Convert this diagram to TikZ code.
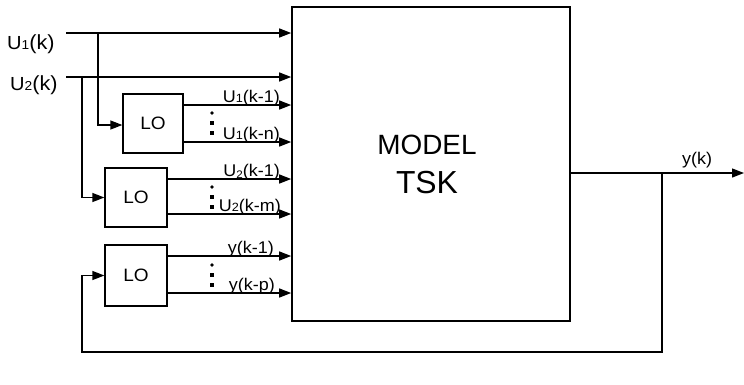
\documentclass[tikz,border=0pt]{standalone}
\usepackage{fontspec}
\setmainfont{Liberation Sans}
\newfontfamily\lblfont[FakeStretch=1.06]{Liberation Sans}
\newfontfamily\inpfont[FakeStretch=1.06]{Liberation Sans}
\usetikzlibrary{arrows.meta}
\newcommand{\smidx}[1]{{\fontsize{12}{12}\selectfont #1}}
\newcommand{\lowidx}[1]{\raisebox{-2.5bp}{\fontsize{11}{11}\selectfont #1}}
\newcommand{\inU}[1]{{\fontsize{19}{20}\selectfont U\fontsize{13}{14}\selectfont #1}}
\begin{document}
\begin{tikzpicture}[x=1bp,y=-1bp,
  line/.style={line width=1.3bp},
  arr/.style={line width=1.3bp,-{Triangle[length=12bp,width=9bp]}},
  blk/.style={draw,line width=1.3bp,inner sep=0pt,fill=white},
  lbl/.style={inner sep=0pt,anchor=base east,font=\lblfont\fontsize{17}{19}\selectfont},
  inp/.style={inner sep=0pt,anchor=base west,font=\inpfont\fontsize{20.5}{22}\selectfont},
  lofont/.style={font=\lblfont\fontsize{18}{20}\selectfont}]
\useasboundingbox (0,0) rectangle (744,384);
\fill[white] (0,0) rectangle (744,384);

% blocks
\node[blk,line width=1.6bp,minimum width=278bp,minimum height=314bp] (model) at (431,164) {};
\node[font=\fontsize{28}{30}\selectfont] (mtext) at (427,145) {MODEL};
\node[font=\fontsize{32}{34}\selectfont] (ttext) at (427,183) {TSK};
\node[blk,lofont,minimum width=60bp,minimum height=59bp] (lo1) at (153,123.5) {LO};
\node[blk,lofont,minimum width=62bp,minimum height=59bp] (lo2) at (136,197.5) {LO};
\node[blk,lofont,minimum width=62bp,minimum height=61bp] (lo3) at (136,275.5) {LO};

% inputs
\node[inp] (u1lbl) at (7,49) {\inU{1}(k)};
\node[inp] (u2lbl) at (10,90) {\inU{2}(k)};
\coordinate (u1s) at (66,33);
\coordinate (u2s) at (66,77);
\coordinate (b1) at (98,33);
\coordinate (b2) at (82,77);
\draw[arr] (u1s) -- (u1s -| model.west);
\draw[arr] (u2s) -- (u2s -| model.west);
\coordinate (lo1in) at (0,125);
\draw[arr] (b1) |- (lo1.west |- lo1in);
\draw[arr] (b2) |- (lo2.west);

% LO outputs
\coordinate (ya) at (0,105);
\coordinate (yb) at (0,142);
\coordinate (yc) at (0,179);
\coordinate (yd) at (0,214);
\coordinate (ye) at (0,256);
\coordinate (yf) at (0,293);
\draw[arr] (lo1.east |- ya) -- (model.west |- ya);
\draw[arr] (lo1.east |- yb) -- (model.west |- yb);
\draw[arr] (lo2.east |- yc) -- (model.west |- yc);
\draw[arr] (lo2.east |- yd) -- (model.west |- yd);
\draw[arr] (lo3.east |- ye) -- (model.west |- ye);
\draw[arr] (lo3.east |- yf) -- (model.west |- yf);

\node[lbl] (l1) at (280,102) {U\smidx{1}(k-1)};
\node[lbl] (l2) at (280,139) {U\smidx{1}(k-n)};
\node[lbl] (l3) at (280,176) {U\lowidx{2}(k-1)};
\node[lbl] (l4) at (281,211) {U\smidx{2}(k-m)};
\node[lbl] (l5) at (274,253) {y(k-1)};
\node[lbl] (l6) at (275,290) {y(k-p)};

% vertical dots
\foreach \y in {113,187,265} {
  \fill (212,\y) circle (1.9bp);
  \fill (210.3,\y+8.3) rectangle ++(3.6,3.6);
  \fill (210.3,\y+18.3) rectangle ++(3.6,3.6);
}

% output and feedback
\coordinate (yo) at (0,173);
\coordinate (outend) at (744,173);
\coordinate (tap) at (662,173);
\coordinate (fbc) at (82,352);
\draw[arr] (model.east |- yo) -- (outend);
\node[lbl,anchor=base west] (ylbl) at (682,164) {y(k)};
\draw[arr] (tap) |- (fbc) |- (lo3.west);
\end{tikzpicture}
\end{document}
